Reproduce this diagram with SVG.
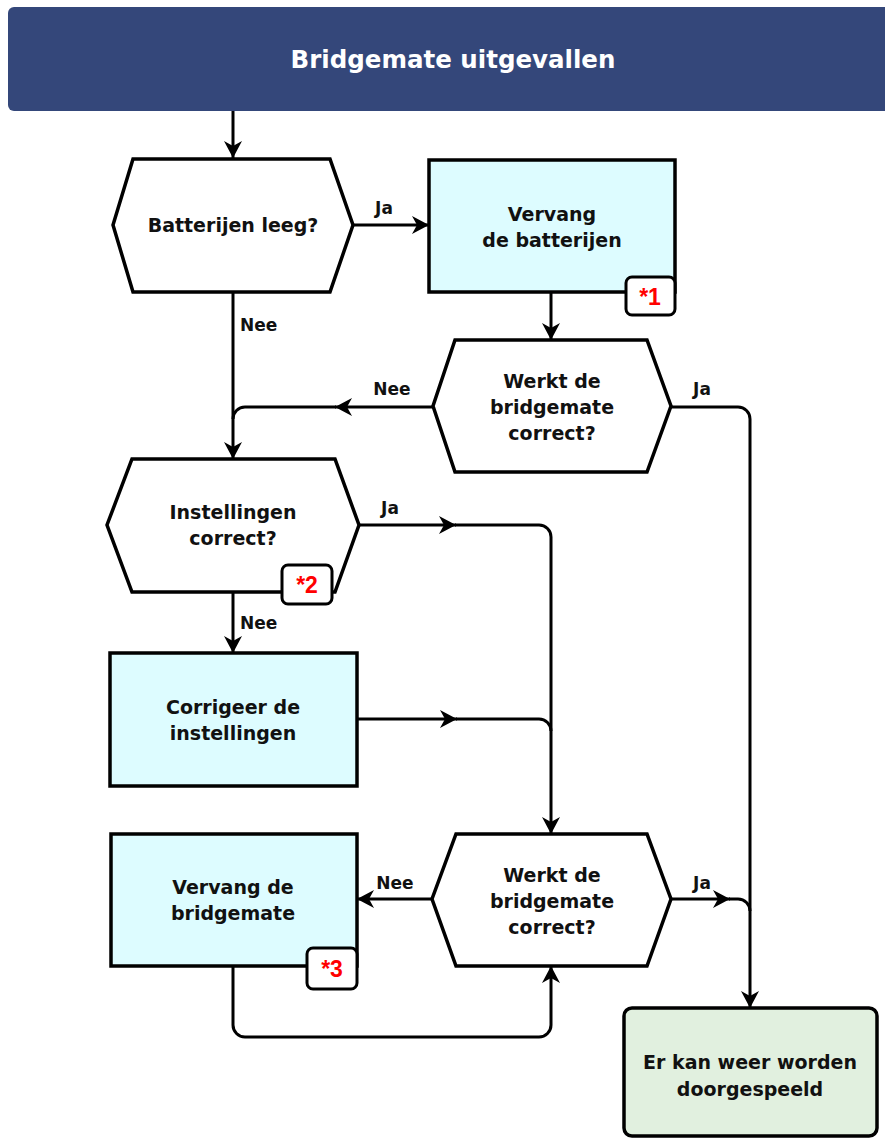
<svg xmlns="http://www.w3.org/2000/svg" width="885" height="1138" viewBox="0 0 885 1138">
<style>
.s{stroke:#000;stroke-width:3.5;stroke-linejoin:miter}
.dec{fill:#fff}
.proc{fill:#ddfcff}
.end{fill:#e1f0df}
.badge{fill:#fff;stroke:#000;stroke-width:3}
.t{font-family:"DejaVu Sans",sans-serif;font-weight:bold;font-size:19px;fill:#111;text-anchor:middle}
.lbl{font-family:"DejaVu Sans",sans-serif;font-weight:bold;font-size:17px;fill:#111}
.bt{font-family:"Liberation Sans",Arial,sans-serif;font-weight:bold;font-size:23px;fill:#ff0000;text-anchor:middle}
.h{font-family:"DejaVu Sans",sans-serif;font-weight:bold;font-size:24.5px;fill:#fff;text-anchor:middle}
.c{fill:none;stroke:#000;stroke-width:3}
</style>
<defs>
<marker id="arr" markerUnits="userSpaceOnUse" markerWidth="20" markerHeight="20" viewBox="0 -10 20 20" refX="17" refY="0" orient="auto">
<path d="M0,-9 L17,0 L0,9 L5,0 Z" fill="#000"/>
</marker>
</defs>

<g id="header">
<rect x="8" y="7" width="900" height="104" rx="6" fill="#34477a"/>
<text class="h" x="453" y="68">Bridgemate uitgevallen</text>
</g>

<g id="connectors">
<path class="c" d="M233,111 V158" marker-end="url(#arr)"/>
<path class="c" d="M353,225 H429" marker-end="url(#arr)"/>
<path class="c" d="M233,293 V459" marker-end="url(#arr)"/>
<path class="c" d="M551,292 V340" marker-end="url(#arr)"/>
<path class="c" d="M433,407 H335" marker-end="url(#arr)"/>
<path class="c" d="M336,407 H245 A12,12 0 0 0 233,419"/>
<path class="c" d="M671,407 H738 A12,12 0 0 1 750,419 V1008" marker-end="url(#arr)"/>
<path class="c" d="M359,525 H456" marker-end="url(#arr)"/>
<path class="c" d="M455,525 H539 A12,12 0 0 1 551,537 V834" marker-end="url(#arr)"/>
<path class="c" d="M233,592 V653" marker-end="url(#arr)"/>
<path class="c" d="M357,719 H457" marker-end="url(#arr)"/>
<path class="c" d="M456,719 H539 A12,12 0 0 1 551,731"/>
<path class="c" d="M432,899 H357" marker-end="url(#arr)"/>
<path class="c" d="M233,966 V1025 A12,12 0 0 0 245,1037 H539 A12,12 0 0 0 551,1025 V966" marker-end="url(#arr)"/>
<path class="c" d="M671,899 H730" marker-end="url(#arr)"/>
<path class="c" d="M729,899 H738 A12,12 0 0 1 750,911"/>
<text class="lbl" x="384" y="214" text-anchor="middle">Ja</text>
<text class="lbl" x="240" y="331">Nee</text>
<text class="lbl" x="392" y="395" text-anchor="middle">Nee</text>
<text class="lbl" x="702" y="395" text-anchor="middle">Ja</text>
<text class="lbl" x="390" y="514" text-anchor="middle">Ja</text>
<text class="lbl" x="240" y="629">Nee</text>
<text class="lbl" x="395" y="889" text-anchor="middle">Nee</text>
<text class="lbl" x="702" y="889" text-anchor="middle">Ja</text>
</g>

<g id="batterijen-leeg">
<polygon class="s dec" points="133,159 330,159 353,225 330,292 133,292 113,225"/>
<text class="t" x="233" y="232">Batterijen leeg?</text>
</g>

<g id="vervang-batterijen">
<rect class="s proc" x="429" y="160" width="246" height="132"/>
<text class="t" x="552" y="221">Vervang</text>
<text class="t" x="552" y="247">de batterijen</text>
<rect class="badge" x="626" y="277" width="49" height="38" rx="6"/>
<text class="bt" x="650" y="305">*1</text>
</g>

<g id="werkt-1">
<polygon class="s dec" points="455,340 647,340 671,406 647,472 455,472 433,406"/>
<text class="t" x="552" y="388">Werkt de</text>
<text class="t" x="552" y="414">bridgemate</text>
<text class="t" x="552" y="440">correct?</text>
</g>

<g id="instellingen-correct">
<polygon class="s dec" points="132,459 335,459 359,525 335,592 132,592 107,525"/>
<text class="t" x="233" y="519">Instellingen</text>
<text class="t" x="233" y="545">correct?</text>
<rect class="badge" x="282" y="565" width="50" height="39" rx="6"/>
<text class="bt" x="307" y="593">*2</text>
</g>

<g id="corrigeer">
<rect class="s proc" x="110" y="653" width="247" height="133"/>
<text class="t" x="233" y="714">Corrigeer de</text>
<text class="t" x="233" y="740">instellingen</text>
</g>

<g id="werkt-2">
<polygon class="s dec" points="456,834 647,834 671,899 647,966 456,966 432,899"/>
<text class="t" x="552" y="882">Werkt de</text>
<text class="t" x="552" y="908">bridgemate</text>
<text class="t" x="552" y="934">correct?</text>
</g>

<g id="vervang-bridgemate">
<rect class="s proc" x="111" y="834" width="246" height="132"/>
<text class="t" x="233" y="894">Vervang de</text>
<text class="t" x="233" y="920">bridgemate</text>
<rect class="badge" x="307" y="948" width="50" height="41" rx="6"/>
<text class="bt" x="332" y="977">*3</text>
</g>

<g id="doorgespeeld">
<rect class="s end" x="624" y="1008" width="253" height="128" rx="8"/>
<text class="t" x="750" y="1069">Er kan weer worden</text>
<text class="t" x="750" y="1096">doorgespeeld</text>
</g>
</svg>
